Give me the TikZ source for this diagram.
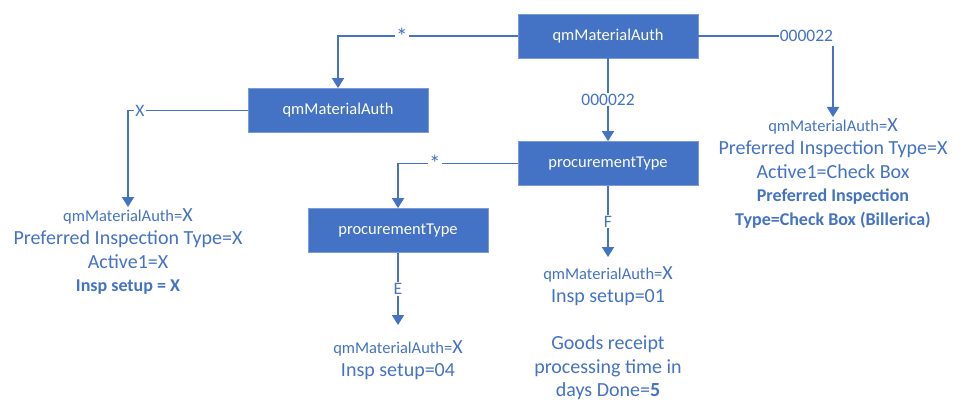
\documentclass[tikz,border=0pt]{standalone}
\usepackage{fontspec}
\setmainfont{Carlito}
\usetikzlibrary{arrows.meta}
\definecolor{ob}{HTML}{4472C4}
\definecolor{obb}{HTML}{7C9BD6}
\newcommand\smtxt[1]{{\fontsize{16.5}{23.5}\selectfont #1}}
\newcommand\bdtxt[1]{{\fontsize{18}{23.5}\selectfont\bfseries #1}}
\begin{document}
\begin{tikzpicture}[x=1pt,y=-1pt,
 box/.style={rectangle, fill=ob, draw=obb, line width=0.8pt, minimum width=180pt, minimum height=44pt, text=white, font=\fontsize{16.5}{20}\selectfont, inner sep=0pt},
 info/.style={text=ob, align=center, font=\fontsize{20}{23.5}\selectfont, inner xsep=0pt, anchor=north},
 conn/.style={draw=ob, line width=1.9pt, -{Triangle[width=12pt,length=10pt]}},
 lab/.style={fill=white, text=ob, font=\fontsize{17.5}{20}\selectfont, inner sep=1pt},
 star/.style={lab, font=\fontsize{23}{20}\selectfont, inner ysep=3pt},
]
\useasboundingbox (0,0) rectangle (976,414);
\node[box] (top) at (608,36) {qmMaterialAuth};
\node[box] (lq) at (338,110.5) {qmMaterialAuth};
\node[box] (pr) at (608,163.5) {procurementType};
\node[box] (pl) at (398,230.5) {procurementType};

\node[info, inner ysep=1pt] (lb) at (128,207) {\smtxt{qmMaterialAuth=}X\\Preferred Inspection Type=X\\Active1=X\\\bdtxt{Insp setup = X}};
\node[info, inner ysep=1pt] (rb) at (833,117) {\smtxt{qmMaterialAuth=}X\\Preferred Inspection Type=X\\Active1=Check Box\\\bdtxt{Preferred Inspection}\\\bdtxt{Type=Check Box (Billerica)}};
\node[info, inner ysep=9pt] (fb) at (608,257) {\smtxt{qmMaterialAuth=}X\\Insp setup=01\\[23.5pt]Goods receipt\\processing time in\\days Done=\textbf{5}};
\node[info, inner ysep=15pt] (eb) at (398,325) {\smtxt{qmMaterialAuth=}X\\Insp setup=04};

\draw[conn] (top.west) -| node[star, pos=0.322]{*} (lq.north);
\draw[conn] (top.east) -| node[lab, pos=0.5, anchor=east, inner ysep=4pt, xshift=2pt]{000022} (rb.north);
\draw[conn] (top.south) -- node[lab]{000022} (pr.north);
\draw[conn] (lq.west) -| node[lab, pos=0.45]{X} (lb.north);
\draw[conn] (pr.west) -| node[star, pos=0.346]{*} (pl.north);
\draw[conn] (pr.south) -- node[lab]{F} (fb.north);
\draw[conn] (pl.south) -- node[lab]{E} (eb.north);
\end{tikzpicture}
\end{document}
